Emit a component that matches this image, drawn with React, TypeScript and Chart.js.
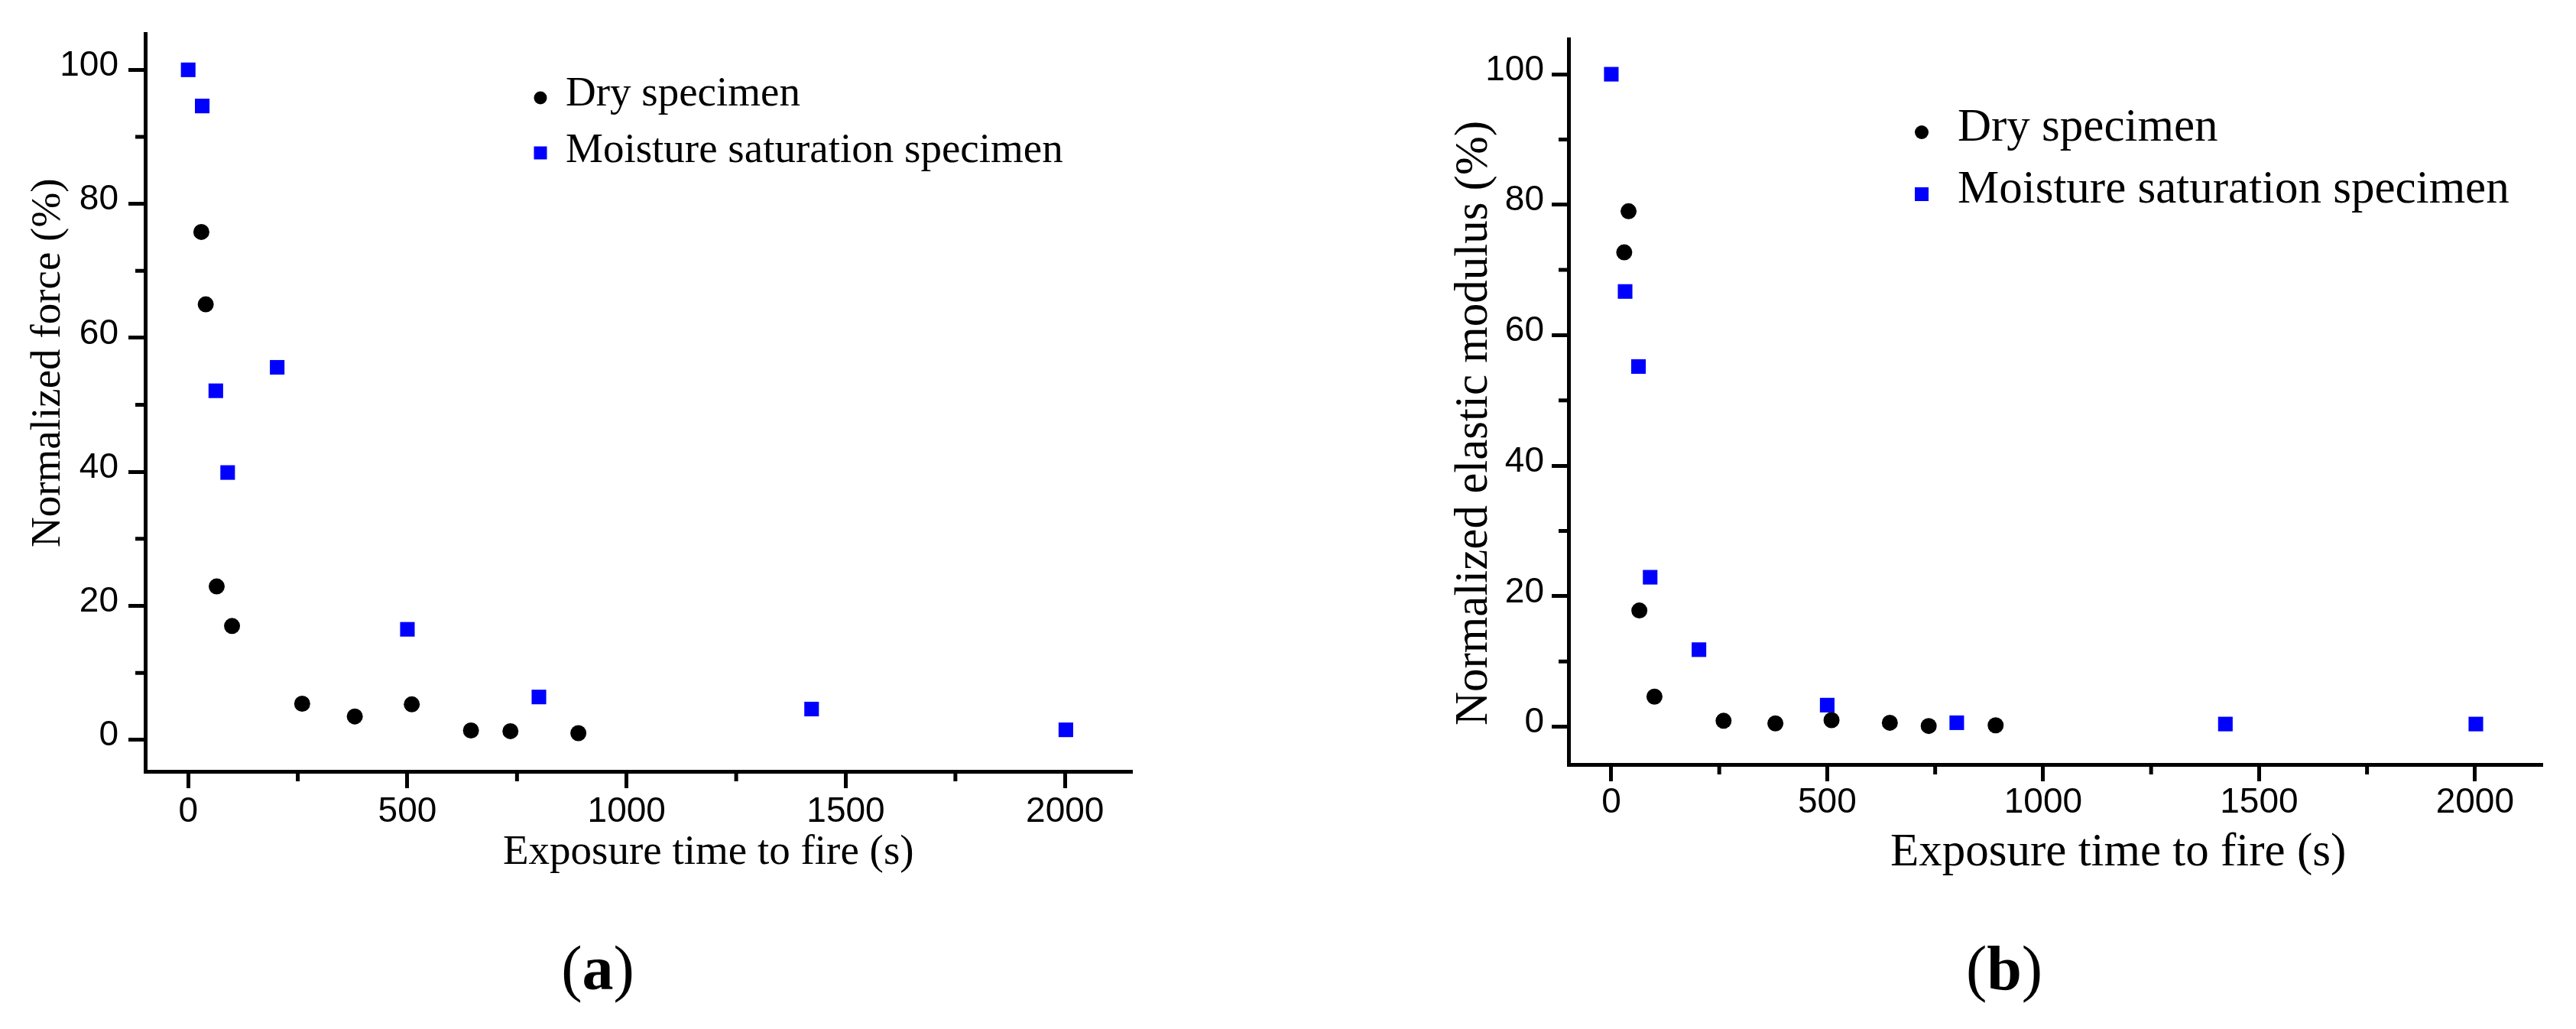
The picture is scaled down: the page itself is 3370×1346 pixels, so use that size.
import { useEffect, useRef } from "react"
import { Chart, registerables } from "chart.js"

Chart.register(...registerables)

// exposure times (s)
const dryTime = [30, 40, 65, 100, 260, 380, 510, 645, 735, 890]
const wetTime = [0, 32, 63, 90, 203, 500, 800, 1422, 2002]

// (a) normalized force (%)
const dryForce = [75.8, 65.0, 22.9, 17.0, 5.4, 3.5, 5.3, 1.4, 1.3, 1.0]
const wetForce = [100, 94.6, 52.1, 39.9, 55.6, 16.5, 6.4, 4.6, 1.5]

// (b) normalized elastic modulus (%)
const dryModulus = [72.7, 79.0, 17.8, 4.6, 0.9, 0.5, 1.0, 0.6, 0.1, 0.2]
const wetModulus = [100, 66.7, 55.2, 22.9, 11.8, 3.3, 0.6, 0.4, 0.4]

const xTickValues = [0, 500, 1000, 1500, 2000]
const xMinorValues = [250, 750, 1250, 1750]
const yTickValues = [0, 20, 40, 60, 80, 100]
const yMinorValues = [10, 30, 50, 70, 90]

const seriesNames = ["Dry specimen", "Moisture saturation specimen"]
const xTitle = "Exposure time to fire (s)"

const W = 1685
const H = 1346
const X_AXIS_H = 120

type Layout = {
  offset: number
  area: { left: number; top: number; right: number; bottom: number }
  xRange: [number, number]
  yRange: [number, number]
  padX: number
  padY: number
  font: number
  xTitleAt: [number, number]
  yTitleAt: [number, number]
  legendX: number
  legendTextX: number
  legendY: [number, number]
  legendBase: [number, number]
  legendSize: number
}

const layoutA: Layout = {
  offset: 0,
  area: { left: 190, top: 44, right: 1481, bottom: 1009 },
  xRange: [-98, 2153],
  yRange: [-4.7, 105.4],
  padX: 4,
  padY: 13,
  font: 55,
  xTitleAt: [658, 1130],
  yTitleAt: [78, 716],
  legendX: 707,
  legendTextX: 740,
  legendY: [128, 200],
  legendBase: [138, 212],
  legendSize: 17,
}

const layoutB: Layout = {
  offset: 1685,
  area: { left: 2052, top: 51, right: 3326, bottom: 1000 },
  xRange: [-99, 2156],
  yRange: [-5.8, 105.4],
  padX: 1,
  padY: 10,
  font: 61,
  xTitleAt: [2473, 1132],
  yTitleAt: [1945, 949],
  legendX: 2514,
  legendTextX: 2561,
  legendY: [173, 254],
  legendBase: [184, 265],
  legendSize: 18,
}

const Panel = ({ L, yTitle, dry, wet }: { L: Layout; yTitle: string; dry: number[]; wet: number[] }) => {
  const canvasRef = useRef<HTMLCanvasElement | null>(null)

  useEffect(() => {
    if (!canvasRef.current) return
    const ox = L.offset

    // minor ticks, axis titles and the in-plot legend
    const decor = {
      id: "decor",
      afterDraw(c: any) {
        const ctx = c.ctx
        const xs = c.scales.x
        const ys = c.scales.y
        ctx.save()
        ctx.strokeStyle = "#000"
        ctx.lineWidth = 5
        ctx.beginPath()
        xMinorValues.forEach((v) => {
          const p = xs.getPixelForValue(v)
          ctx.moveTo(p, xs.top)
          ctx.lineTo(p, xs.top + 13)
        })
        yMinorValues.forEach((v) => {
          const p = ys.getPixelForValue(v)
          ctx.moveTo(ys.right, p)
          ctx.lineTo(ys.right - 13, p)
        })
        ctx.stroke()

        ctx.fillStyle = "#000"
        ctx.font = `${L.font}px "Liberation Serif"`
        ctx.textAlign = "left"
        ctx.textBaseline = "alphabetic"
        ctx.fillText(xTitle, L.xTitleAt[0] - ox, L.xTitleAt[1])
        ctx.save()
        ctx.translate(L.yTitleAt[0] - ox, L.yTitleAt[1])
        ctx.rotate(-Math.PI / 2)
        ctx.fillText(yTitle, 0, 0)
        ctx.restore()

        const s = L.legendSize
        const mx = L.legendX - ox
        ctx.beginPath()
        ctx.arc(mx, L.legendY[0], s / 2, 0, Math.PI * 2)
        ctx.fill()
        ctx.fillText(seriesNames[0], L.legendTextX - ox, L.legendBase[0])
        ctx.fillStyle = "#0000ff"
        ctx.fillRect(mx - s / 2, L.legendY[1] - s / 2, s, s)
        ctx.fillStyle = "#000"
        ctx.fillText(seriesNames[1], L.legendTextX - ox, L.legendBase[1])
        ctx.restore()
      },
    }

    const tickFont = { family: "Liberation Sans", size: 46 }

    const chartInstance = new Chart(canvasRef.current, {
      type: "scatter",
      data: {
        datasets: [
          {
            label: seriesNames[0],
            data: dryTime.map((t, i) => ({ x: t, y: dry[i] })),
            pointStyle: "circle",
            pointRadius: 10.5,
            backgroundColor: "#000",
            borderWidth: 0,
          },
          {
            label: seriesNames[1],
            data: wetTime.map((t, i) => ({ x: t, y: wet[i] })),
            pointStyle: "rect",
            pointRadius: 13.5,
            backgroundColor: "#0000ff",
            borderWidth: 0,
          },
        ],
      },
      options: {
        responsive: false,
        animation: false,
        events: [],
        layout: {
          padding: {
            left: 0,
            top: L.area.top,
            right: W - (L.area.right - ox),
            bottom: H - L.area.bottom - X_AXIS_H,
          },
        },
        plugins: { legend: { display: false }, tooltip: { enabled: false } },
        scales: {
          x: {
            type: "linear",
            min: L.xRange[0],
            max: L.xRange[1],
            afterBuildTicks: (s: any) => {
              s.ticks = xTickValues.map((v) => ({ value: v }))
            },
            afterFit: (s: any) => {
              s.height = X_AXIS_H
            },
            ticks: {
              callback: (v: any) => String(v),
              font: tickFont,
              color: "#000",
              padding: L.padX,
              maxRotation: 0,
              autoSkip: false,
            },
            grid: { drawOnChartArea: false, drawTicks: true, tickLength: 22, tickWidth: 5, tickColor: "#000" },
            border: { display: true, color: "#000", width: 5 },
          },
          y: {
            type: "linear",
            min: L.yRange[0],
            max: L.yRange[1],
            afterBuildTicks: (s: any) => {
              s.ticks = yTickValues.map((v) => ({ value: v }))
            },
            afterFit: (s: any) => {
              s.width = L.area.left - ox
            },
            ticks: {
              callback: (v: any) => String(v),
              font: tickFont,
              color: "#000",
              padding: L.padY,
              labelOffset: -5,
              autoSkip: false,
            },
            grid: { drawOnChartArea: false, drawTicks: true, tickLength: 22, tickWidth: 5, tickColor: "#000" },
            border: { display: true, color: "#000", width: 5 },
          },
        },
      },
      plugins: [decor],
    } as any)

    return () => {
      chartInstance.destroy()
    }
  }, [])

  return (
    <canvas
      ref={canvasRef}
      width={W}
      height={H}
      style={{ position: "absolute", left: L.offset, top: 0, width: W, height: H }}
    />
  )
}

const tagStyle = (cx: number) => ({
  position: "absolute" as const,
  left: cx - 150,
  width: 300,
  top: 1226,
  fontFamily: "Liberation Serif",
  fontSize: 82,
  lineHeight: "82px",
  textAlign: "center" as const,
  color: "#000",
})

const App = () => {
  return (
    <div style={{ position: "absolute", left: 0, top: 0, width: 3370, height: 1346, background: "#fff" }}>
      <Panel L={layoutA} yTitle="Normalized force (%)" dry={dryForce} wet={wetForce} />
      <Panel L={layoutB} yTitle="Normalized elastic modulus (%)" dry={dryModulus} wet={wetModulus} />
      <div style={tagStyle(782)}>
        (<b>a</b>)
      </div>
      <div style={tagStyle(2622)}>
        (<b>b</b>)
      </div>
    </div>
  )
}

export default App
